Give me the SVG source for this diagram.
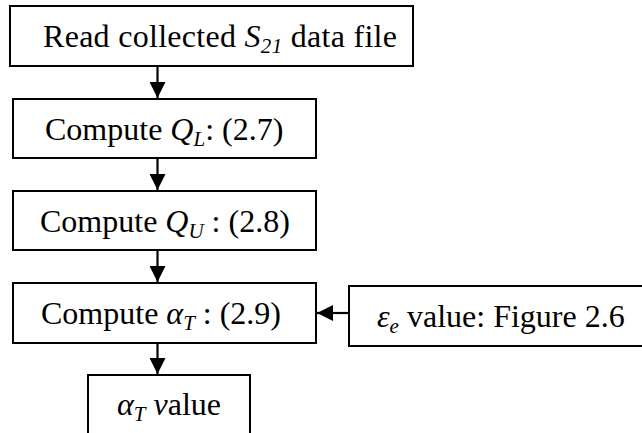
<svg xmlns="http://www.w3.org/2000/svg" width="642" height="433" viewBox="0 0 642 433">
  <style>
    .box { fill: #ffffff; stroke: #000000; stroke-width: 2; }
    .lbl { font-family: "Liberation Serif", "Times New Roman", serif; font-size: 32px; fill: #000000; }
    .it { font-style: italic; }
    .sub { font-style: italic; font-size: 21px; }
    .wire { stroke: #000000; stroke-width: 2.2; fill: none; }
  </style>
  <defs>
    <marker id="head" viewBox="0 0 16 16" refX="16" refY="8" markerWidth="16" markerHeight="16" markerUnits="userSpaceOnUse" orient="auto">
      <path d="M0,0 L16,8 L0,16 Z" fill="#000000"/>
    </marker>
  </defs>
  <rect width="642" height="433" fill="#ffffff"/>

  <g id="read-s21">
    <rect class="box" x="10" y="6" width="403" height="60"/>
    <text class="lbl" x="43" y="47" textLength="354" lengthAdjust="spacing">Read collected <tspan class="it">S</tspan><tspan class="sub" dy="6">21</tspan><tspan dy="-6"> data file</tspan></text>
  </g>

  <g id="compute-ql">
    <rect class="box" x="13" y="99" width="303" height="59"/>
    <text class="lbl" x="45" y="140">Compute <tspan class="it">Q</tspan><tspan class="sub" dy="6">L</tspan><tspan dy="-6">: (2.7)</tspan></text>
  </g>

  <g id="compute-qu">
    <rect class="box" x="13" y="191" width="303" height="59"/>
    <text class="lbl" x="40" y="232">Compute <tspan class="it">Q</tspan><tspan class="sub" dy="6">U</tspan><tspan dy="-6"> : (2.8)</tspan></text>
  </g>

  <g id="compute-alpha">
    <rect class="box" x="13" y="283" width="303" height="60"/>
    <text class="lbl" x="41" y="324">Compute <tspan class="it">α</tspan><tspan class="sub" dy="6">T</tspan><tspan dy="-6"> : (2.9)</tspan></text>
  </g>

  <g id="epsilon-value">
    <rect class="box" x="349" y="286" width="296" height="60"/>
    <text class="lbl" x="377" y="327"><tspan class="it">ε</tspan><tspan class="sub" dy="6">e</tspan><tspan dy="-6"> value: Figure 2.6</tspan></text>
  </g>

  <g id="alpha-value">
    <rect class="box" x="88" y="375" width="162" height="70"/>
    <text class="lbl" x="117" y="415"><tspan class="it">α</tspan><tspan class="sub" dy="6">T</tspan><tspan dy="-6"> </tspan><tspan class="it">v</tspan>alue</text>
  </g>

  <g id="connectors">
    <line class="wire" x1="157.5" y1="66" x2="157.5" y2="98" marker-end="url(#head)"/>
    <line class="wire" x1="157.5" y1="158" x2="157.5" y2="190" marker-end="url(#head)"/>
    <line class="wire" x1="157.5" y1="250" x2="157.5" y2="282" marker-end="url(#head)"/>
    <line class="wire" x1="349" y1="313" x2="317" y2="313" marker-end="url(#head)"/>
    <line class="wire" x1="157.5" y1="343" x2="157.5" y2="374" marker-end="url(#head)"/>
  </g>
</svg>
